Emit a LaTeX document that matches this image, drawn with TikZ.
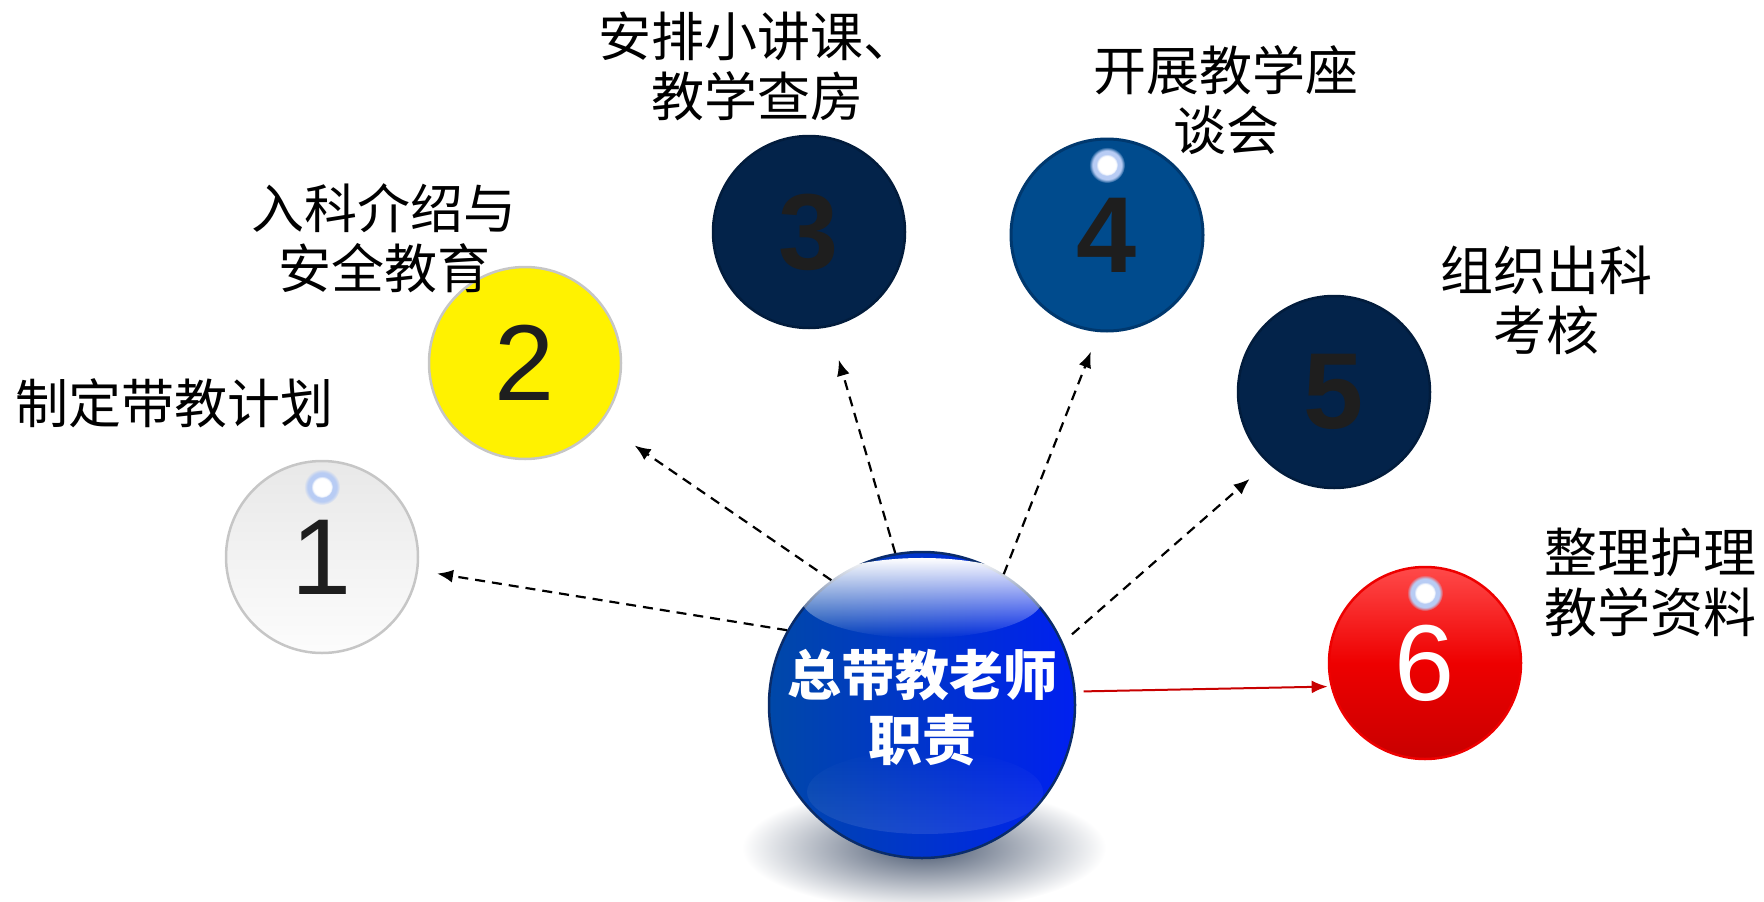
\documentclass[tikz,border=0pt]{standalone}
\usepackage{fontspec}
\usetikzlibrary{arrows.meta,calc,fadings}
\newfontfamily\cjk{Noto Sans CJK SC}
\newfontfamily\digits{Liberation Sans}
\definecolor{rim}{HTML}{C6C6C6}
\definecolor{ink}{HTML}{1E1E1E}
\definecolor{navy}{HTML}{03234A}
\definecolor{navyrim}{HTML}{021C3C}
\definecolor{steel}{HTML}{004B8D}
\definecolor{steelrim}{HTML}{00386E}
\definecolor{redtop}{HTML}{FF4A4A}
\definecolor{redmid}{HTML}{EE0000}
\definecolor{redbot}{HTML}{C80000}
\definecolor{hubl}{HTML}{0048A8}
\definecolor{hubr}{HTML}{0020F0}
\definecolor{hubrim}{HTML}{0A2C6A}
\definecolor{glint}{HTML}{B8CCF4}
\definecolor{shadowc}{HTML}{4A5870}
\tikzset{
  ball/.style={circle, minimum size=192pt, inner sep=0pt, line width=2.5pt,
    font=\digits\fontsize{108}{108}\selectfont, text=ink},
  lbl/.style={font=\cjk\fontsize{53}{60}\selectfont, align=center, inner sep=0pt},
  flow/.style={dash pattern=on 10pt off 7pt, line width=2.2pt, -{Latex[length=16pt,width=13pt]}},
}

\begin{document}
\begin{tikzpicture}[x=1pt,y=-1pt]
\useasboundingbox (0,0) rectangle (1764,902);

\shade[inner color=shadowc, outer color=white] (924,848) ellipse (182 and 62);

\node[ball, draw=rim, top color=black!9, bottom color=black!1] (b1) at (322,557) {1};
\node[ball, draw=rim, fill=yellow] (b2) at (525,363) {2};
\node[ball, draw=navyrim, fill=navy, font=\digits\bfseries\fontsize{108}{108}\selectfont] (b3) at (809,232) {3};
\node[ball, draw=steelrim, fill=steel, line width=3pt, font=\digits\bfseries\fontsize{108}{108}\selectfont] (b4) at (1107,235) {4};
\node[ball, draw=navyrim, fill=navy, font=\digits\bfseries\fontsize{108}{108}\selectfont] (b5) at (1334,392) {5};
\node[ball, draw=redmid, top color=redtop, bottom color=redbot, middle color=redmid, text=white] (b6) at (1425,663) {6};

\foreach \b in {b1,b4,b6}{
    \fill[glint, path fading=circle with fuzzy edge 20 percent] ($(\b)+(0,-70)$) circle (18);
    \fill[white, path fading=circle with fuzzy edge 20 percent] ($(\b)+(0,-70)$) circle (11);
}

\node[circle, minimum size=306pt, inner sep=0pt, draw=hubrim, line width=2.5pt,
      left color=hubl, right color=hubr] (hub) at (922,705) {};
\fill[white, path fading=south] (922,598) ellipse (121 and 40);
\fill[white, opacity=0.1, path fading=north] (925,792) ellipse (118 and 42);
\node[font=\cjk\bfseries\fontsize{54}{65}\selectfont, text=white, align=center] (duty) at (922,708) {总带教老师\\职责};

\node[lbl] (t1) at (174,403) {制定带教计划};
\node[lbl] (t2) at (384,238) {入科介绍与\\安全教育};
\node[lbl] (t3) at (757,66) {安排小讲课、\\教学查房};
\node[lbl] (t4) at (1226,100) {开展教学座\\谈会};
\node[lbl] (t5) at (1546,300) {组织出科\\考核};
\node[lbl] (t6) at (1650,582) {整理护理\\教学资料};

\draw[flow, shorten >=19pt] (hub.151) -- (b1.-8);
\draw[flow, shorten >=40pt] (hub.126) -- (b2.-38);
\draw[flow, shorten >=34pt] (hub.100) -- (b3.-78);
\draw[flow, shorten >=21pt] (hub.58) -- (b4.-95);
\draw[flow, shorten <=12pt, shorten >=24pt] (hub.24) -- (b5.227);
\draw[redbot, line width=2pt, -{Latex[length=16pt,width=13pt]}, shorten <=8pt, shorten >=3pt] (hub.5) -- (b6.194);
\end{tikzpicture}
\end{document}
